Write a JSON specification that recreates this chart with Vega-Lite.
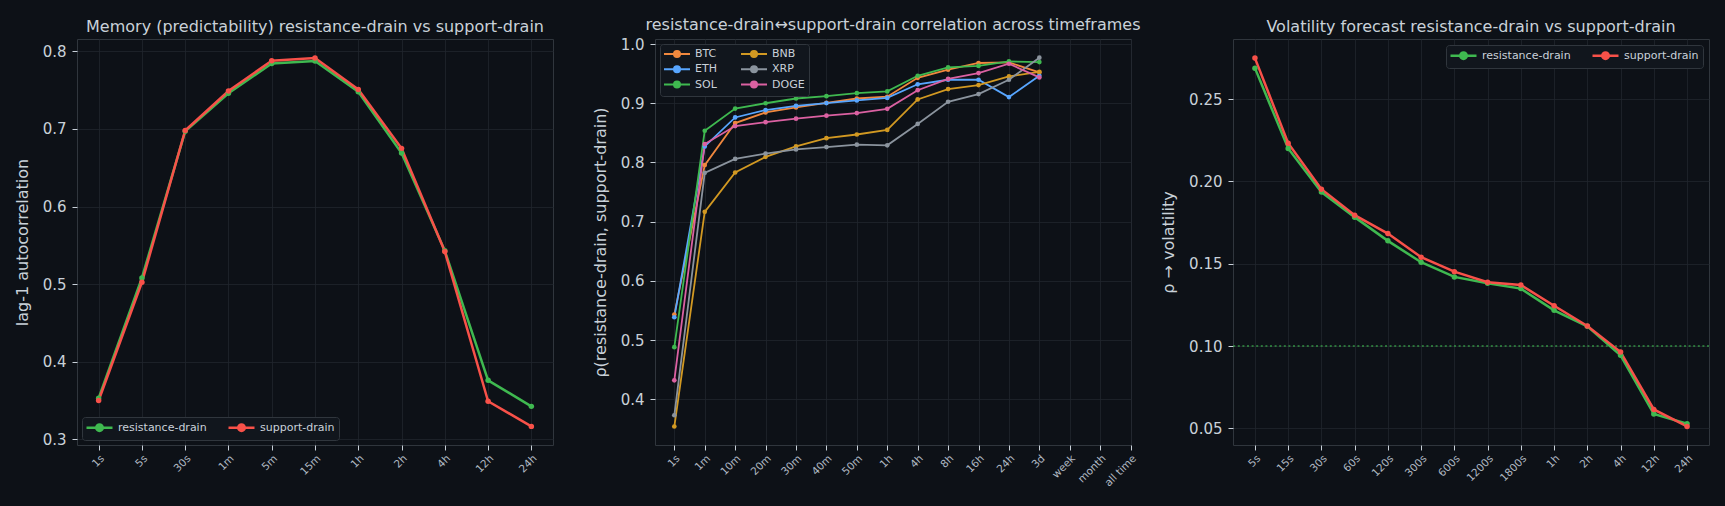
{
  "$schema": "https://vega.github.io/schema/vega-lite/v6.json",
  "background": "#0d1117",
  "padding": {"left": 13, "top": 16, "right": 20, "bottom": 22},
  "bounds": "flush",
  "spacing": 102,
  "config": {
    "font": "DejaVu Sans",
    "view": {"stroke": "#30363d", "strokeWidth": 1},
    "axis": {
      "domain": false,
      "labelColor": "#c9d1d9",
      "titleColor": "#c9d1d9",
      "tickColor": "#c9d1d9",
      "tickSize": 5,
      "gridColor": "#21262d",
      "gridOpacity": 0.8,
      "titleFontWeight": "normal",
      "labelFont": "DejaVu Sans",
      "titleFont": "DejaVu Sans"
    },
    "axisX": {"labelAngle": -45, "labelFontSize": 10.5, "labelColor": "#b1bac4", "labelPadding": 3},
    "axisY": {"labelFontSize": 15, "titleFontSize": 16, "labelPadding": 6, "titlePadding": 12},
    "title": {"color": "#c9d1d9", "fontSize": 16, "fontWeight": "normal", "font": "DejaVu Sans", "offset": 4},
    "legend": {
      "title": null,
      "labelColor": "#c9d1d9",
      "labelFontSize": 11,
      "labelFont": "DejaVu Sans",
      "fillColor": "#11161d",
      "strokeColor": "#30363d",
      "cornerRadius": 3,
      "padding": 4,
      "symbolSize": 100,
      "symbolOffset": 7,
      "labelOffset": 12,
      "columnPadding": 16,
      "rowPadding": 1.3,
      "offset": 5
    }
  },
  "resolve": {
    "scale": {"color": "independent", "x": "independent", "y": "independent"},
    "legend": {"color": "independent"}
  },
  "hconcat": [
    {
      "width": 476,
      "height": 406,
      "title": "Memory (predictability) resistance-drain vs support-drain",
      "data": {"values": [
        {"tf": "1s", "series": "resistance-drain", "v": 0.353},
        {"tf": "5s", "series": "resistance-drain", "v": 0.508},
        {"tf": "30s", "series": "resistance-drain", "v": 0.697},
        {"tf": "1m", "series": "resistance-drain", "v": 0.746},
        {"tf": "5m", "series": "resistance-drain", "v": 0.7845},
        {"tf": "15m", "series": "resistance-drain", "v": 0.7876},
        {"tf": "1h", "series": "resistance-drain", "v": 0.748},
        {"tf": "2h", "series": "resistance-drain", "v": 0.669},
        {"tf": "4h", "series": "resistance-drain", "v": 0.543},
        {"tf": "12h", "series": "resistance-drain", "v": 0.376},
        {"tf": "24h", "series": "resistance-drain", "v": 0.3424},
        {"tf": "1s", "series": "support-drain", "v": 0.350},
        {"tf": "5s", "series": "support-drain", "v": 0.5024},
        {"tf": "30s", "series": "support-drain", "v": 0.698},
        {"tf": "1m", "series": "support-drain", "v": 0.749},
        {"tf": "5m", "series": "support-drain", "v": 0.788},
        {"tf": "15m", "series": "support-drain", "v": 0.7915},
        {"tf": "1h", "series": "support-drain", "v": 0.751},
        {"tf": "2h", "series": "support-drain", "v": 0.675},
        {"tf": "4h", "series": "support-drain", "v": 0.542},
        {"tf": "12h", "series": "support-drain", "v": 0.349},
        {"tf": "24h", "series": "support-drain", "v": 0.3166}
      ]},
      "encoding": {
        "x": {"field": "tf", "type": "ordinal",
              "scale": {"type": "point", "padding": 0.5, "domain": ["1s","5s","30s","1m","5m","15m","1h","2h","4h","12h","24h"]},
              "axis": {"title": null, "grid": true}},
        "y": {"field": "v", "type": "quantitative",
              "scale": {"domain": [0.2926, 0.816], "nice": false, "zero": false},
              "axis": {"title": "lag-1 autocorrelation", "values": [0.3,0.4,0.5,0.6,0.7,0.8], "format": ".1f"}},
        "color": {"field": "series", "type": "nominal",
                  "scale": {"domain": ["resistance-drain","support-drain"], "range": ["#3fb950","#f85149"]},
                  "legend": {"orient": "bottom-left", "direction": "horizontal",
                             "symbolType": "M-2.6,0H2.6M-0.65,0A0.65,0.65,0,1,1,0.65,0A0.65,0.65,0,1,1,-0.65,0Z",
                             "encode": {"symbols": {"update": {
                               "fill": {"signal": "datum.value === 'resistance-drain' ? '#3fb950' : '#f85149'"},
                               "stroke": {"signal": "datum.value === 'resistance-drain' ? '#3fb950' : '#f85149'"},
                               "strokeWidth": {"value": 2.5}}}}}}
      },
      "layer": [
        {"mark": {"type": "line", "strokeWidth": 2.5}},
        {"mark": {"type": "point", "filled": true, "size": 30, "opacity": 1}}
      ]
    },
    {
      "width": 476,
      "height": 406,
      "title": "resistance-drain↔support-drain correlation across timeframes",
      "data": {"values": [
        {"tf": "1s", "coin": "BTC", "v": 0.543},
        {"tf": "1m", "coin": "BTC", "v": 0.7955},
        {"tf": "10m", "coin": "BTC", "v": 0.8665},
        {"tf": "20m", "coin": "BTC", "v": 0.8844},
        {"tf": "30m", "coin": "BTC", "v": 0.893},
        {"tf": "40m", "coin": "BTC", "v": 0.9008},
        {"tf": "50m", "coin": "BTC", "v": 0.908},
        {"tf": "1h", "coin": "BTC", "v": 0.911},
        {"tf": "4h", "coin": "BTC", "v": 0.943},
        {"tf": "8h", "coin": "BTC", "v": 0.9566},
        {"tf": "16h", "coin": "BTC", "v": 0.968},
        {"tf": "24h", "coin": "BTC", "v": 0.969},
        {"tf": "3d", "coin": "BTC", "v": 0.952},
        {"tf": "1s", "coin": "ETH", "v": 0.5386},
        {"tf": "1m", "coin": "ETH", "v": 0.827},
        {"tf": "10m", "coin": "ETH", "v": 0.876},
        {"tf": "20m", "coin": "ETH", "v": 0.8885},
        {"tf": "30m", "coin": "ETH", "v": 0.8957},
        {"tf": "40m", "coin": "ETH", "v": 0.9003},
        {"tf": "50m", "coin": "ETH", "v": 0.9047},
        {"tf": "1h", "coin": "ETH", "v": 0.909},
        {"tf": "4h", "coin": "ETH", "v": 0.932},
        {"tf": "8h", "coin": "ETH", "v": 0.9397},
        {"tf": "16h", "coin": "ETH", "v": 0.9397},
        {"tf": "24h", "coin": "ETH", "v": 0.9104},
        {"tf": "3d", "coin": "ETH", "v": 0.9464},
        {"tf": "1s", "coin": "SOL", "v": 0.488},
        {"tf": "1m", "coin": "SOL", "v": 0.8535},
        {"tf": "10m", "coin": "SOL", "v": 0.891},
        {"tf": "20m", "coin": "SOL", "v": 0.900},
        {"tf": "30m", "coin": "SOL", "v": 0.908},
        {"tf": "40m", "coin": "SOL", "v": 0.912},
        {"tf": "50m", "coin": "SOL", "v": 0.917},
        {"tf": "1h", "coin": "SOL", "v": 0.920},
        {"tf": "4h", "coin": "SOL", "v": 0.9464},
        {"tf": "8h", "coin": "SOL", "v": 0.9605},
        {"tf": "16h", "coin": "SOL", "v": 0.963},
        {"tf": "24h", "coin": "SOL", "v": 0.9706},
        {"tf": "3d", "coin": "SOL", "v": 0.9696},
        {"tf": "1s", "coin": "BNB", "v": 0.354},
        {"tf": "1m", "coin": "BNB", "v": 0.7166},
        {"tf": "10m", "coin": "BNB", "v": 0.783},
        {"tf": "20m", "coin": "BNB", "v": 0.8095},
        {"tf": "30m", "coin": "BNB", "v": 0.827},
        {"tf": "40m", "coin": "BNB", "v": 0.841},
        {"tf": "50m", "coin": "BNB", "v": 0.8472},
        {"tf": "1h", "coin": "BNB", "v": 0.855},
        {"tf": "4h", "coin": "BNB", "v": 0.9064},
        {"tf": "8h", "coin": "BNB", "v": 0.924},
        {"tf": "16h", "coin": "BNB", "v": 0.9307},
        {"tf": "24h", "coin": "BNB", "v": 0.9453},
        {"tf": "3d", "coin": "BNB", "v": 0.953},
        {"tf": "1s", "coin": "XRP", "v": 0.373},
        {"tf": "1m", "coin": "XRP", "v": 0.7825},
        {"tf": "10m", "coin": "XRP", "v": 0.806},
        {"tf": "20m", "coin": "XRP", "v": 0.815},
        {"tf": "30m", "coin": "XRP", "v": 0.822},
        {"tf": "40m", "coin": "XRP", "v": 0.826},
        {"tf": "50m", "coin": "XRP", "v": 0.830},
        {"tf": "1h", "coin": "XRP", "v": 0.829},
        {"tf": "4h", "coin": "XRP", "v": 0.865},
        {"tf": "8h", "coin": "XRP", "v": 0.9025},
        {"tf": "16h", "coin": "XRP", "v": 0.9155},
        {"tf": "24h", "coin": "XRP", "v": 0.9397},
        {"tf": "3d", "coin": "XRP", "v": 0.977},
        {"tf": "1s", "coin": "DOGE", "v": 0.432},
        {"tf": "1m", "coin": "DOGE", "v": 0.831},
        {"tf": "10m", "coin": "DOGE", "v": 0.8614},
        {"tf": "20m", "coin": "DOGE", "v": 0.868},
        {"tf": "30m", "coin": "DOGE", "v": 0.874},
        {"tf": "40m", "coin": "DOGE", "v": 0.879},
        {"tf": "50m", "coin": "DOGE", "v": 0.8834},
        {"tf": "1h", "coin": "DOGE", "v": 0.8906},
        {"tf": "4h", "coin": "DOGE", "v": 0.922},
        {"tf": "8h", "coin": "DOGE", "v": 0.941},
        {"tf": "16h", "coin": "DOGE", "v": 0.951},
        {"tf": "24h", "coin": "DOGE", "v": 0.9667},
        {"tf": "3d", "coin": "DOGE", "v": 0.9436}
      ]},
      "encoding": {
        "x": {"field": "tf", "type": "ordinal",
              "scale": {"type": "point", "padding": 0.324, "align": 0.98,
                        "domain": ["1s","1m","10m","20m","30m","40m","50m","1h","4h","8h","16h","24h","3d","week","month","all time"]},
              "axis": {"title": null, "grid": true}},
        "y": {"field": "v", "type": "quantitative",
              "scale": {"domain": [0.3228, 1.0085], "nice": false, "zero": false},
              "axis": {"title": "ρ(resistance-drain, support-drain)", "values": [0.4,0.5,0.6,0.7,0.8,0.9,1.0], "format": ".1f"}},
        "color": {"field": "coin", "type": "nominal",
                  "scale": {"domain": ["BTC","ETH","SOL","BNB","XRP","DOGE"],
                            "range": ["#f0883e","#58a6ff","#3fb950","#d29922","#8b949e","#db61a2"]},
                  "legend": {"orient": "top-left", "columns": 2, "columnPadding": 20,
                             "symbolType": "M-2.6,0H2.6M-0.6,0A0.6,0.6,0,1,1,0.6,0A0.6,0.6,0,1,1,-0.6,0Z",
                             "encode": {"symbols": {"update": {
                               "fill": {"signal": "({'BTC':'#f0883e','BNB':'#d29922','ETH':'#58a6ff','XRP':'#8b949e','SOL':'#3fb950','DOGE':'#db61a2'})[datum.value]"},
                               "stroke": {"signal": "({'BTC':'#f0883e','BNB':'#d29922','ETH':'#58a6ff','XRP':'#8b949e','SOL':'#3fb950','DOGE':'#db61a2'})[datum.value]"},
                               "strokeWidth": {"value": 2}}}}}}
      },
      "layer": [
        {"mark": {"type": "line", "strokeWidth": 1.8}},
        {"mark": {"type": "point", "filled": true, "size": 22, "opacity": 1}}
      ]
    },
    {
      "width": 476,
      "height": 406,
      "title": "Volatility forecast resistance-drain vs support-drain",
      "layer": [
        {
          "data": {"values": [{"level": 0.1}]},
          "mark": {"type": "rule", "color": "#3fb950", "strokeWidth": 1.5, "strokeDash": [2, 2.6], "opacity": 0.75},
          "encoding": {"y": {"field": "level", "type": "quantitative"}}
        },
        {
          "data": {"values": [
            {"tf": "5s", "series": "resistance-drain", "v": 0.2688},
            {"tf": "15s", "series": "resistance-drain", "v": 0.220},
            {"tf": "30s", "series": "resistance-drain", "v": 0.1935},
            {"tf": "60s", "series": "resistance-drain", "v": 0.1783},
            {"tf": "120s", "series": "resistance-drain", "v": 0.1639},
            {"tf": "300s", "series": "resistance-drain", "v": 0.1509},
            {"tf": "600s", "series": "resistance-drain", "v": 0.142},
            {"tf": "1200s", "series": "resistance-drain", "v": 0.1382},
            {"tf": "1800s", "series": "resistance-drain", "v": 0.1349},
            {"tf": "1h", "series": "resistance-drain", "v": 0.1217},
            {"tf": "2h", "series": "resistance-drain", "v": 0.112},
            {"tf": "4h", "series": "resistance-drain", "v": 0.0944},
            {"tf": "12h", "series": "resistance-drain", "v": 0.0587},
            {"tf": "24h", "series": "resistance-drain", "v": 0.0528},
            {"tf": "5s", "series": "support-drain", "v": 0.2749},
            {"tf": "15s", "series": "support-drain", "v": 0.2232},
            {"tf": "30s", "series": "support-drain", "v": 0.1953},
            {"tf": "60s", "series": "support-drain", "v": 0.1795},
            {"tf": "120s", "series": "support-drain", "v": 0.1683},
            {"tf": "300s", "series": "support-drain", "v": 0.154},
            {"tf": "600s", "series": "support-drain", "v": 0.1452},
            {"tf": "1200s", "series": "support-drain", "v": 0.1388},
            {"tf": "1800s", "series": "support-drain", "v": 0.1371},
            {"tf": "1h", "series": "support-drain", "v": 0.1245},
            {"tf": "2h", "series": "support-drain", "v": 0.1122},
            {"tf": "4h", "series": "support-drain", "v": 0.0964},
            {"tf": "12h", "series": "support-drain", "v": 0.0615},
            {"tf": "24h", "series": "support-drain", "v": 0.0512}
          ]},
          "encoding": {
            "x": {"field": "tf", "type": "ordinal",
                  "scale": {"type": "point", "padding": 0.66, "domain": ["5s","15s","30s","60s","120s","300s","600s","1200s","1800s","1h","2h","4h","12h","24h"]},
                  "axis": {"title": null, "grid": true}},
            "y": {"field": "v", "type": "quantitative"},
            "color": {"field": "series", "type": "nominal",
                      "scale": {"domain": ["resistance-drain","support-drain"], "range": ["#3fb950","#f85149"]},
                      "legend": {"orient": "top-right", "direction": "horizontal", "offset": 6,
                                 "symbolType": "M-2.6,0H2.6M-0.65,0A0.65,0.65,0,1,1,0.65,0A0.65,0.65,0,1,1,-0.65,0Z",
                                 "encode": {"symbols": {"update": {
                                   "fill": {"signal": "datum.value === 'resistance-drain' ? '#3fb950' : '#f85149'"},
                                   "stroke": {"signal": "datum.value === 'resistance-drain' ? '#3fb950' : '#f85149'"},
                                   "strokeWidth": {"value": 2.5}}}}}}
          },
          "layer": [
            {"mark": {"type": "line", "strokeWidth": 2.5}},
            {"mark": {"type": "point", "filled": true, "size": 30, "opacity": 1}}
          ]
        }
      ],
      "encoding": {
        "y": {"type": "quantitative",
              "scale": {"domain": [0.0399, 0.2865], "nice": false, "zero": false},
              "axis": {"title": "ρ → volatility", "values": [0.05,0.10,0.15,0.20,0.25], "format": ".2f"}}
      }
    }
  ]
}
